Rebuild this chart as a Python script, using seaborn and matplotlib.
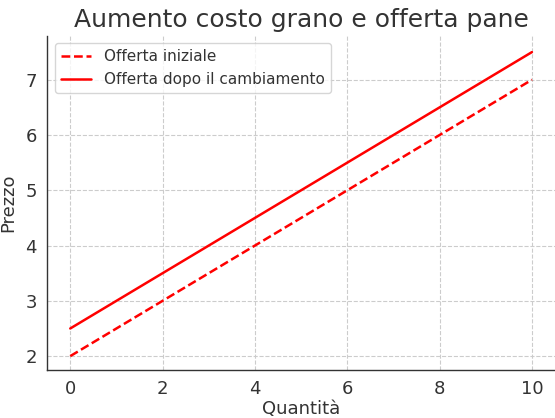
import numpy as np
import pandas as pd
import matplotlib
matplotlib.use("Agg")
import matplotlib.pyplot as plt
import seaborn as sns

# data
quantita = [0, 2, 4, 6, 8, 10]
offerta_iniziale = [2.0, 3.0, 4.0, 5.0, 6.0, 7.0]
offerta_dopo = [2.5, 3.5, 4.5, 5.5, 6.5, 7.5]

df = pd.DataFrame({
    "Quantità": quantita * 2,
    "Prezzo": offerta_iniziale + offerta_dopo,
    "serie": ["Offerta iniziale"] * len(quantita) + ["Offerta dopo il cambiamento"] * len(quantita),
})

sns.set_theme(style="whitegrid")
plt.rcParams["font.family"] = ["DejaVu Sans"]
plt.rcParams["text.color"] = "#333333"
plt.rcParams["axes.labelcolor"] = "#333333"
plt.rcParams["xtick.color"] = "#333333"
plt.rcParams["ytick.color"] = "#333333"

fig, ax = plt.subplots(figsize=(5.55, 4.18), dpi=100)
sns.lineplot(data=df, x="Quantità", y="Prezzo", hue="serie", style="serie",
             palette=["red", "red"], dashes=[(3.5, 1.5), ""], linewidth=1.8, ax=ax)

ax.set_title("Aumento costo grano e offerta pane", fontsize=18)
ax.set_xlabel("Quantità", fontsize=13, labelpad=1)
ax.set_ylabel("Prezzo", fontsize=13, labelpad=6)
ax.tick_params(labelsize=13, length=4, color="#333333", direction="out")
ax.set_xlim(-0.5, 10.5)
ax.set_ylim(1.75, 7.8)
ax.set_xticks([0, 2, 4, 6, 8, 10])
ax.set_yticks([2, 3, 4, 5, 6, 7])
ax.grid(True, linestyle="--", color="#cccccc", linewidth=0.8)
for s in ["top", "right"]:
    ax.spines[s].set_visible(False)
for s in ["left", "bottom"]:
    ax.spines[s].set_color("#333333")
    ax.spines[s].set_linewidth(1.0)
ax.set_facecolor("white")
leg = ax.legend(title=None, loc="upper left", fontsize=11, frameon=True)
leg.get_frame().set_edgecolor("#cccccc")

fig.subplots_adjust(left=0.085, right=1.0, top=0.915, bottom=0.115)
fig.savefig("out.png", dpi=100)
